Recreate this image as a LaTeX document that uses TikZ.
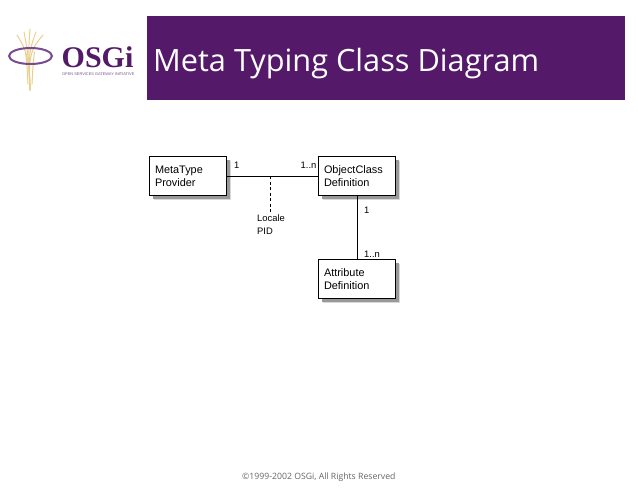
\documentclass[tikz,border=0pt]{standalone}
\usepackage{fontspec}
\setmainfont{Liberation Sans}
\newfontfamily\titlefont{Open Sans}
\newfontfamily\logofont{Liberation Serif}
\definecolor{osgipurple}{HTML}{541A69}
\definecolor{ringpurple}{HTML}{7A4A90}
\definecolor{rodgold}{HTML}{EBD08C}
\tikzset{
  x=1pt,y=-1pt,
  classbox/.style={draw=black,line width=1pt,fill=white,minimum width=77pt,minimum height=39pt,align=left,anchor=north west,inner sep=0pt,font=\fontsize{10.9pt}{13pt}\selectfont,text width=66pt,
    preaction={draw=none,fill=black!15,transform canvas={shift={(4.5pt,-4.5pt)}}},
    preaction={draw=none,fill=black!40,transform canvas={shift={(3pt,-3pt)}}}},
  lbl/.style={inner sep=0pt,font=\fontsize{9.4pt}{12.5pt}\selectfont,align=left},
  conn/.style={line width=1pt},
  rod/.style={draw=rodgold,line width=1pt,line cap=round}
}
\begin{document}
\begin{tikzpicture}
\useasboundingbox (0,0) rectangle (638,493);
\fill[white] (0,0) rectangle (638,493);
% banner
\fill[osgipurple] (147,16) rectangle (625,100);
\node[anchor=base west,inner sep=0pt,text=white,font=\titlefont\fontsize{30.7pt}{33pt}\selectfont] (title) at (153,71) {Meta Typing Class Diagram};
% logo
\foreach \tx/\ty in {17/35,24/32,30/29,36/32,43/35}{
  \draw[rod] (\tx,\ty) .. controls (28,52) and (29,62) .. (30,90);
}
\draw[rod] (25.5,52) .. controls (27,65) .. (28,84);
\draw[rod] (34.5,52) .. controls (33,65) .. (32,84);
\draw[draw=ringpurple,line width=2pt] (30.5,56) ellipse (21.5 and 8);
\node[anchor=base west,inner sep=0pt,text=osgipurple,font=\logofont\bfseries\fontsize{30pt}{30pt}\selectfont] (logo) at (61.5,67) {OSGi};
\node[anchor=base west,inner sep=0pt,text=osgipurple!75,font=\fontsize{3.9pt}{4pt}\selectfont] (tag) at (62,75) {OPEN SERVICES GATEWAY INITIATIVE};
% classes
\node[classbox] (mtp) at (149,156) {MetaType\\Provider};
\node[classbox] (ocd) at (318,156) {ObjectClass\\Definition};
\node[classbox] (ad) at (318,259) {Attribute\\Definition};
% connectors
\coordinate (mid) at (270.5,176);
\coordinate (dashend) at (270.5,213);
\draw[conn] (mtp.east |- mid) -- (ocd.west |- mid);
\draw[conn,dash pattern=on 3pt off 2.5pt] (mid) -- (dashend);
\draw[conn] (ocd.south) -- (ad.north);
% labels
\node[lbl,anchor=base west] (l1) at (234,168) {1};
\node[lbl,anchor=base west] (l2) at (300.5,168) {1..n};
\node[lbl,anchor=base west] (l3) at (257,234) {Locale\\PID};
\node[lbl,anchor=base west] (l4) at (364,213) {1};
\node[lbl,anchor=base west] (l5) at (364,257) {1..n};
% footer
\node[anchor=base west,inner sep=0pt,text=black!60,font=\titlefont\fontsize{8.7pt}{10pt}\selectfont] (foot) at (242,479) {©1999-2002 OSGi, All Rights Reserved};
\end{tikzpicture}
\end{document}
